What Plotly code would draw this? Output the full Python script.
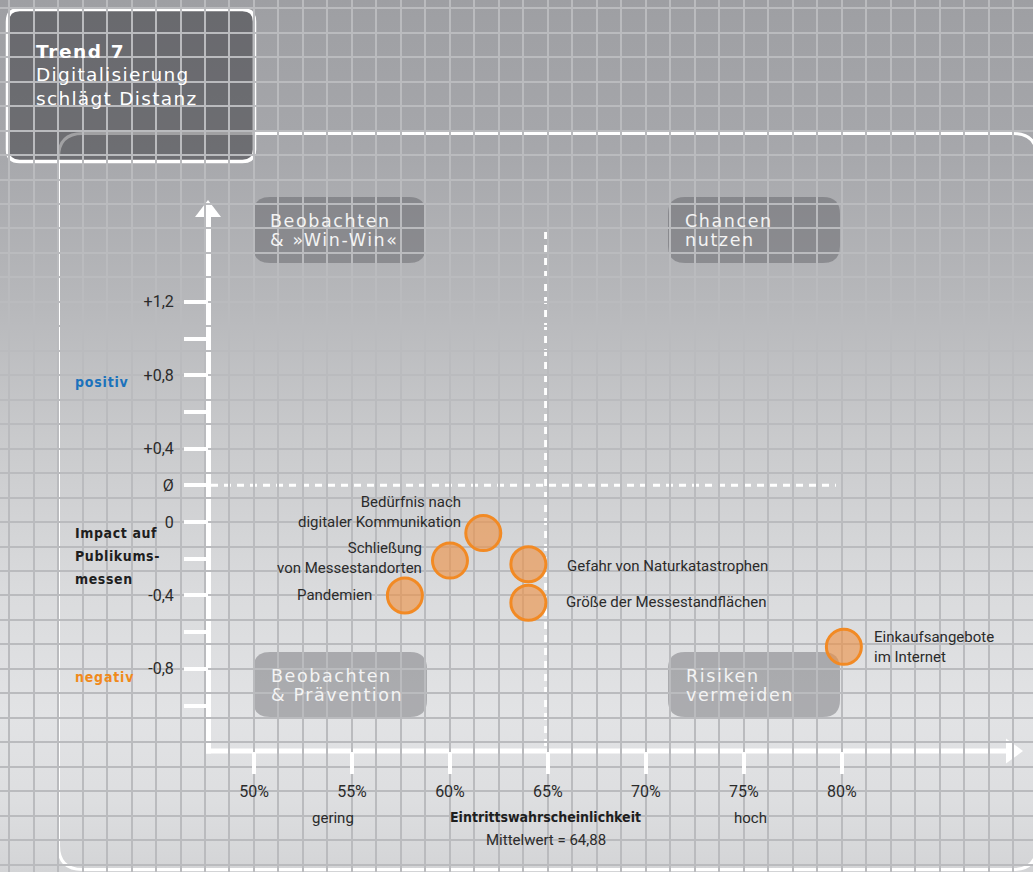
import base64
import plotly.graph_objects as go

W, H = 1033, 872

# ---- data -------------------------------------------------------------
topics = [
    "Bedürfnis nach<br>digitaler Kommunikation",
    "Schließung<br>von Messestandorten",
    "Pandemien",
    "Gefahr von Naturkatastrophen",
    "Größe der Messestandflächen",
    "Einkaufsangebote<br>im Internet",
]
probability = [61.7, 60.0, 57.7, 64.0, 64.0, 80.1]      # Eintrittswahrscheinlichkeit in %
impact = [-0.06, -0.21, -0.40, -0.23, -0.44, -0.68]     # Impact auf Publikumsmessen

x_tickvals = [50, 55, 60, 65, 70, 75, 80]
x_ticktext = ["50%", "55%", "60%", "65%", "70%", "75%", "80%"]
y_tickvals = [1.2, 1.0, 0.8, 0.6, 0.4, 0.2, 0.0, -0.2, -0.4, -0.6, -0.8, -1.0]
y_ticktext = ["+1,2", "", "+0,8", "", "+0,4", "Ø", "0", "", "-0,4", "", "-0,8", ""]

mean_probability = 64.88   # Mittelwert
mean_impact = 0.2          # Ø

quadrants = [
    ("Beobachten", "& »Win-Win«"),
    ("Chancen", "nutzen"),
    ("Beobachten", "& Prävention"),
    ("Risiken", "vermeiden"),
]

# ---- layout helpers ---------------------------------------------------
x_range = [37.04, 89.75]
y_range = [-1.907, 2.845]


def px(x):
    return x / W


def py(y):
    return 1 - y / H


def rounded_path(l, t, r, b, rad):
    pts = [
        f"M{px(l)},{py(t + rad)}",
        f"Q{px(l)},{py(t)} {px(l + rad)},{py(t)}",
        f"L{px(r - rad)},{py(t)}",
        f"Q{px(r)},{py(t)} {px(r)},{py(t + rad)}",
        f"L{px(r)},{py(b - rad)}",
        f"Q{px(r)},{py(b)} {px(r - rad)},{py(b)}",
        f"L{px(l + rad)},{py(b)}",
        f"Q{px(l)},{py(b)} {px(l)},{py(b - rad)}",
        "Z",
    ]
    return " ".join(pts)


def spaced(text, sp=1.5):
    return f'<span style="letter-spacing:{sp}px">{text}</span>'


AXIS_X_PX = 208   # vertical axis position
AXIS_Y_PX = 751   # horizontal axis position

WIDE = "DejaVu Sans, Verdana, sans-serif"
NARROW_BOLD = "Liberation Sans Narrow, DejaVu Sans Condensed, Arial Narrow, sans-serif"
TICKFONT = "Roboto, Liberation Sans, sans-serif"

# background gradient
svg = (
    f'<svg xmlns="http://www.w3.org/2000/svg" width="{W}" height="{H}">'
    '<defs><linearGradient id="g" x1="0" y1="0" x2="0" y2="1">'
    '<stop offset="0" stop-color="#9e9fa3"/>'
    '<stop offset="0.17" stop-color="#a6a7ab"/>'
    '<stop offset="0.35" stop-color="#b7b8bb"/>'
    '<stop offset="0.52" stop-color="#cbccce"/>'
    '<stop offset="0.68" stop-color="#dadbdd"/>'
    '<stop offset="0.82" stop-color="#e2e3e5"/>'
    '<stop offset="0.92" stop-color="#dddee0"/>'
    '<stop offset="1" stop-color="#d3d4d6"/>'
    '</linearGradient></defs>'
    f'<rect width="{W}" height="{H}" fill="url(#g)"/></svg>'
)
bg_src = "data:image/svg+xml;base64," + base64.b64encode(svg.encode()).decode()

fig = go.Figure()

# grid-only overlay subplot
fig.add_trace(go.Scatter(x=[None], y=[None], xaxis="x2", yaxis="y2",
                         showlegend=False, hoverinfo="skip"))

# bubbles
fig.add_trace(go.Scatter(
    x=probability, y=impact, mode="markers",
    marker=dict(size=35, color="rgba(238,146,70,0.62)",
                line=dict(color="#f28a24", width=3)),
    showlegend=False, hoverinfo="skip",
))

shapes = []

# outer panel
shapes.append(dict(type="path", xref="paper", yref="paper",
                   path=rounded_path(58.5, 133.5, 1037, 869.5, 24),
                   line=dict(color="white", width=3), layer="between"))
# title box
shapes.append(dict(type="path", xref="paper", yref="paper",
                   path=rounded_path(7.5, 9.5, 254.5, 161.5, 12),
                   fillcolor="rgba(30,31,35,0.42)",
                   line=dict(color="white", width=3.5), layer="between"))

# quadrant boxes
quad_boxes = [(253, 197, 426, 263), (668, 197, 840, 263),
              (253, 652, 427, 717), (668, 652, 840, 717)]
for (l, t, r, b) in quad_boxes:
    shapes.append(dict(type="path", xref="paper", yref="paper",
                       path=rounded_path(l, t, r, b, 17),
                       fillcolor="rgba(60,60,66,0.33)",
                       line=dict(width=0), layer="between"))

# mean lines
shapes.append(dict(type="line", xref="x", yref="paper",
                   x0=mean_probability, x1=mean_probability,
                   y0=py(232), y1=py(AXIS_Y_PX),
                   line=dict(color="white", width=3, dash="7px,6px"), layer="between"))
shapes.append(dict(type="line", xref="paper", yref="y",
                   x0=px(AXIS_X_PX + 3), x1=px(836),
                   y0=mean_impact, y1=mean_impact,
                   line=dict(color="white", width=3, dash="7px,6px"), layer="between"))

# axis shafts and arrowheads
shapes.append(dict(type="line", xref="paper", yref="paper",
                   x0=px(AXIS_X_PX), x1=px(AXIS_X_PX),
                   y0=py(AXIS_Y_PX + 2.5), y1=py(216),
                   line=dict(color="white", width=6), layer="between"))
shapes.append(dict(type="line", xref="paper", yref="paper",
                   x0=px(AXIS_X_PX - 3), x1=px(1008),
                   y0=py(AXIS_Y_PX), y1=py(AXIS_Y_PX),
                   line=dict(color="white", width=5), layer="between"))
shapes.append(dict(type="path", xref="paper", yref="paper",
                   path=f"M{px(AXIS_X_PX)},{py(200)} L{px(AXIS_X_PX + 13)},{py(217)} "
                        f"L{px(AXIS_X_PX - 13)},{py(217)} Z",
                   fillcolor="white", line=dict(width=0), layer="between"))
shapes.append(dict(type="path", xref="paper", yref="paper",
                   path=f"M{px(1023)},{py(AXIS_Y_PX)} L{px(1006)},{py(AXIS_Y_PX - 12.5)} "
                        f"L{px(1006)},{py(AXIS_Y_PX + 12.5)} Z",
                   fillcolor="white", line=dict(width=0), layer="between"))

annotations = []


def text(x, y, s, size=15, color="#2b2b2b", family=TICKFONT, anchor="left",
         xref="paper", yref="paper"):
    annotations.append(dict(x=x, y=y, xref=xref, yref=yref, text=s, showarrow=False,
                            xanchor=anchor, yanchor="middle",
                            font=dict(size=size, color=color, family=family)))


# title
text(px(34), py(52), spaced("<b>Trend 7</b>", 1.6), size=18.5, color="white", family=WIDE)
text(px(34), py(75), spaced("Digitalisierung", 1.3), size=18.5, color="white", family=WIDE)
text(px(34), py(98), spaced("schlägt Distanz", 1.3), size=18.5, color="white", family=WIDE)

# quadrant labels
quad_text_pos = [(268, 221), (683, 221), (269, 676), (684, 676)]
for (l1, l2), (x0, y0) in zip(quadrants, quad_text_pos):
    text(px(x0), py(y0), spaced(l1, 1.6), size=17.5, color="#f3f3f3", family=WIDE)
    text(px(x0), py(y0 + 19), spaced(l2, 1.6), size=17.5, color="#f3f3f3", family=WIDE)

# y-axis description
text(px(73), py(382), spaced("<b>positiv</b>", 0.8), size=14, color="#1b72bc", family=NARROW_BOLD)
text(px(73), py(677), spaced("<b>negativ</b>", 0.8), size=14, color="#f08a1c", family=NARROW_BOLD)
for i, line in enumerate(["Impact auf", "Publikums-", "messen"]):
    text(px(73), py(533 + 23 * i), spaced(f"<b>{line}</b>", 0.6), size=14,
         color="#1e1e1e", family=NARROW_BOLD)

# x-axis description
text(px(333), py(818), "gering", size=15, anchor="center")
text(px(750), py(818), "hoch", size=15, anchor="center")
text(mean_probability, py(817), "<b>Eintrittswahrscheinlichkeit</b>", size=14,
     color="#1e1e1e", family=NARROW_BOLD, anchor="center", xref="x")
text(mean_probability, py(840), "Mittelwert = 64,88", size=15, anchor="center", xref="x")

# bubble labels
label_offsets = [(-20, 21, "right"), (-26, 3, "right"), (-31, 0, "right"),
                 (37, -2, "left"), (36, 1, "left"), (28, 0, "left")]
for t, xv, yv, (dx, dy, anc) in zip(topics, probability, impact, label_offsets):
    annotations.append(dict(x=xv, y=yv, xref="x", yref="y", text=t, showarrow=False,
                            xanchor=anc, yanchor="middle", align=anc,
                            xshift=dx, yshift=dy,
                            font=dict(size=15, color="#2b2b2b", family=TICKFONT)))

fig.update_layout(
    width=W, height=H, autosize=False,
    margin=dict(l=0, r=0, t=0, b=0, pad=0),
    paper_bgcolor="#c8c9cc",
    plot_bgcolor="rgba(0,0,0,0)",
    showlegend=False,
    images=[dict(source=bg_src, xref="paper", yref="paper", x=0, y=1,
                 sizex=1, sizey=1, xanchor="left", yanchor="top",
                 sizing="stretch", layer="below")],
    shapes=shapes,
    annotations=annotations,
    xaxis=dict(range=x_range, anchor="free", position=1 - AXIS_Y_PX / H,
               tickmode="array", tickvals=x_tickvals, ticktext=x_ticktext,
               ticks="outside", ticklen=22, tickwidth=4, tickcolor="white",
               ticklabelstandoff=4,
               tickfont=dict(size=16, color="#2b2b2b", family=TICKFONT),
               showgrid=False, zeroline=False, showline=False, fixedrange=True),
    yaxis=dict(range=y_range, anchor="free", position=AXIS_X_PX / W,
               tickmode="array", tickvals=y_tickvals, ticktext=y_ticktext,
               ticks="outside", ticklen=24, tickwidth=4, tickcolor="white",
               ticklabelstandoff=7,
               tickfont=dict(size=16, color="#2b2b2b", family=TICKFONT),
               showgrid=False, zeroline=False, showline=False, fixedrange=True),
    xaxis2=dict(range=x_range, overlaying="x", anchor="y2", tick0=50, dtick=1.25,
                showgrid=True, gridcolor="#babbbe", gridwidth=1.6,
                showticklabels=False, ticks="", zeroline=False, showline=False),
    yaxis2=dict(range=y_range, overlaying="y", anchor="x2", tick0=0, dtick=0.4 / 3,
                showgrid=True, gridcolor="#babbbe", gridwidth=1.6,
                showticklabels=False, ticks="", zeroline=False, showline=False),
)

fig.write_html("out.html")
